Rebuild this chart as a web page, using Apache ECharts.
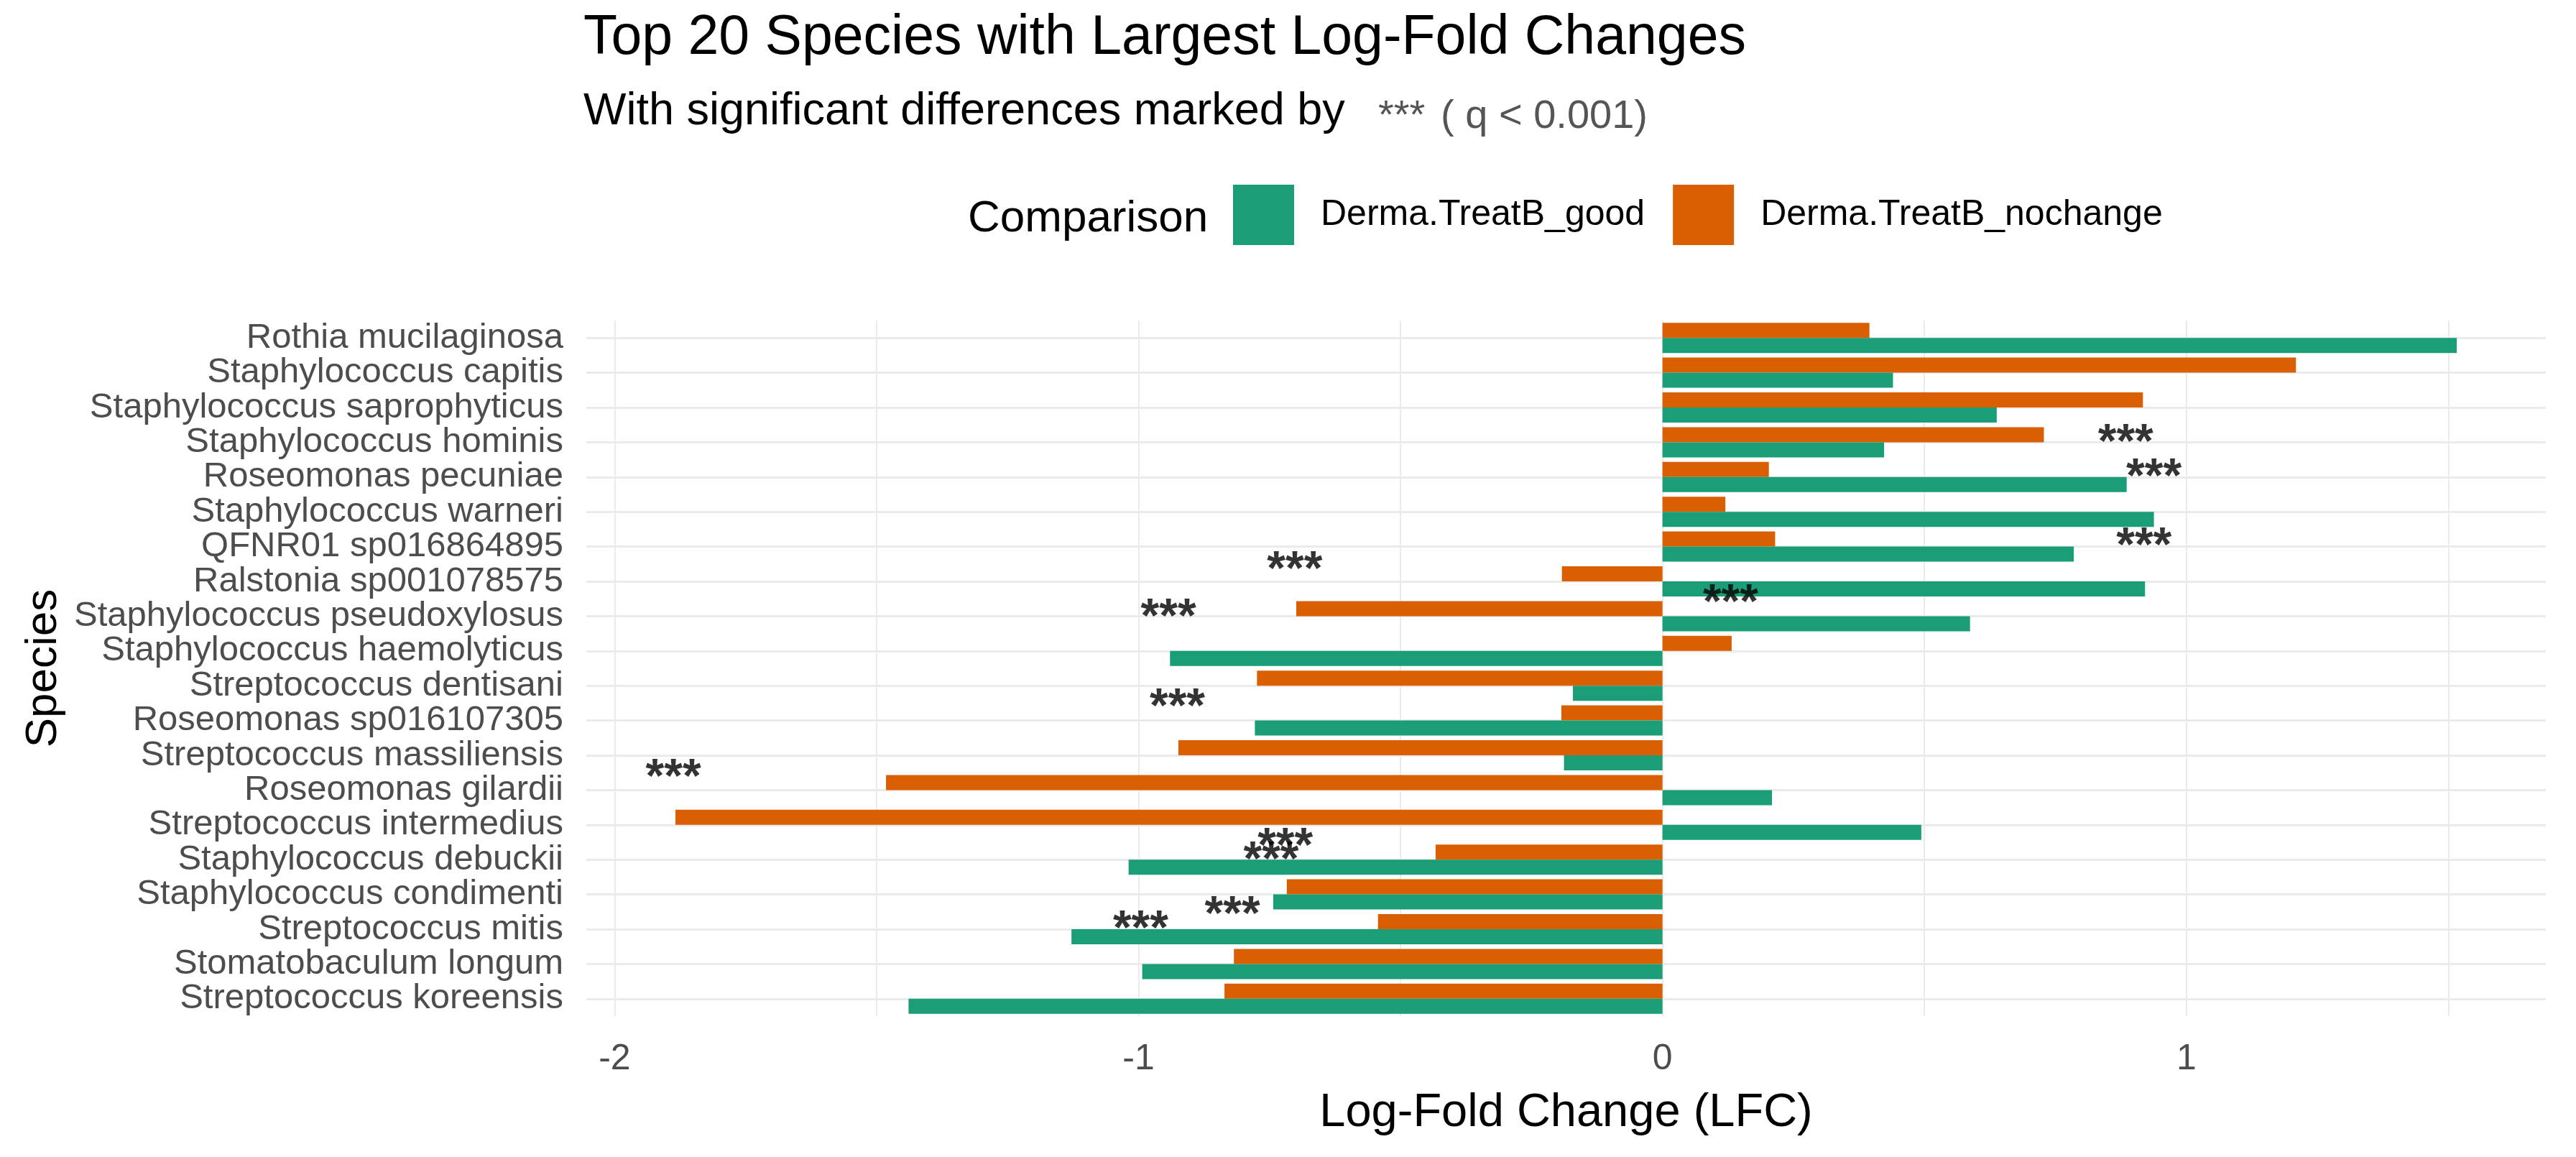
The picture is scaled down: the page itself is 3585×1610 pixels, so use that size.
<!DOCTYPE html>
<html>
<head>
<meta charset="utf-8">
<title>Top 20 Species with Largest Log-Fold Changes</title>
<script src="https://cdn.jsdelivr.net/npm/echarts@6.0.0/dist/echarts.min.js"></script>
<style>
  html, body { margin: 0; padding: 0; background: #fff; }
  #main { width: 3585px; height: 1610px; }
</style>
</head>
<body>
<div id="main"></div>
<script>
// species, top to bottom as in the figure
var species = [
  'Rothia mucilaginosa', 'Staphylococcus capitis', 'Staphylococcus saprophyticus',
  'Staphylococcus hominis', 'Roseomonas pecuniae', 'Staphylococcus warneri',
  'QFNR01 sp016864895', 'Ralstonia sp001078575', 'Staphylococcus pseudoxylosus',
  'Staphylococcus haemolyticus', 'Streptococcus dentisani', 'Roseomonas sp016107305',
  'Streptococcus massiliensis', 'Roseomonas gilardii', 'Streptococcus intermedius',
  'Staphylococcus debuckii', 'Staphylococcus condimenti', 'Streptococcus mitis',
  'Stomatobaculum longum', 'Streptococcus koreensis'
];

// log-fold change per comparison
var lfcGood = [1.516, 0.44, 0.638, 0.423, 0.886, 0.938, 0.785, 0.921, 0.587, -0.94,
  -0.171, -0.778, -0.188, 0.209, 0.494, -1.019, -0.743, -1.128, -0.993, -1.439];
var lfcNochange = [0.395, 1.209, 0.917, 0.728, 0.203, 0.12, 0.215, -0.192, -0.699, 0.132,
  -0.774, -0.193, -0.924, -1.482, -1.884, -0.433, -0.717, -0.543, -0.818, -0.836];

// "***" marks as drawn: LFC position and row position (0 = top row)
var starLfc = [0.884, 0.938, 0.919, 0.13, -0.702, -0.943, -0.926, -1.888, -0.72, -0.747, -0.821, -0.996];
var starRow = [2.76, 3.75, 5.73, 7.37, 6.41, 7.79, 10.36, 12.38, 14.37, 14.76, 16.34, 16.74];

var xMin = -2.054, xMax = 1.686;

var font = "'Liberation Sans', Arial, sans-serif";
var chart = echarts.init(document.getElementById('main'));

var stars = [];
for (var i = 0; i < starLfc.length; i++) {
  stars.push([starLfc[i], starRow[i]]);
}

var option = {
  animation: false,
  textStyle: { fontFamily: font },
  title: [
    {
      text: 'Top 20 Species with Largest Log-Fold Changes',
      left: 812, top: 15, padding: 0,
      textStyle: { fontSize: 77, fontWeight: 'normal', color: '#000', fontFamily: font }
    },
    {
      text: 'With significant differences marked by',
      left: 812, top: 124, padding: 0,
      textStyle: { fontSize: 63, fontWeight: 'normal', color: '#000', fontFamily: font }
    },
    {
      text: '***',
      left: 1918, top: 135, padding: 0,
      textStyle: { fontSize: 56, fontWeight: 'normal', color: '#555', fontFamily: font }
    },
    {
      text: '( q < 0.001)',
      left: 2005, top: 135, padding: 0,
      textStyle: { fontSize: 56, fontWeight: 'normal', color: '#555', fontFamily: font }
    },
    {
      text: 'Comparison',
      left: 1347, top: 274, padding: 0,
      textStyle: { fontSize: 62, fontWeight: 'normal', color: '#000', fontFamily: font }
    }
  ],
  legend: {
    data: ['Derma.TreatB_good', 'Derma.TreatB_nochange'],
    left: 1716, top: 257, padding: 0,
    itemWidth: 85, itemHeight: 84, itemGap: 39,
    icon: 'rect',
    selectedMode: false,
    textStyle: { fontSize: 50, color: '#000', fontFamily: font, padding: [0, 0, 0, 32] }
  },
  grid: { left: 816, right: 42, top: 446, bottom: 196 },
  xAxis: {
    type: 'value',
    min: xMin, max: xMax,
    splitNumber: 8,
    axisLine: { show: false },
    axisTick: { show: false },
    axisLabel: {
      fontSize: 50, color: '#4D4D4D', margin: 35, fontFamily: font,
      formatter: function (v) {
        return Math.abs(v - Math.round(v)) < 1e-6 ? String(Math.round(v)) : '';
      }
    },
    splitLine: {
      show: true, showMinLine: false, showMaxLine: false,
      lineStyle: { color: '#EBEBEB', width: 2 }
    },
    name: 'Log-Fold Change (LFC)',
    nameLocation: 'middle',
    nameGap: 103,
    nameTextStyle: { fontSize: 65, color: '#000', fontFamily: font }
  },
  yAxis: [
    {
      type: 'category',
      data: species,
      inverse: true,
      axisLine: { show: false },
      axisTick: { show: false },
      splitLine: { show: false },
      axisLabel: { interval: 0, fontSize: 49, color: '#4D4D4D', margin: 32, fontFamily: font },
      name: 'Species',
      nameLocation: 'middle',
      nameRotate: 90,
      nameGap: 724,
      nameTextStyle: { fontSize: 62, color: '#000', fontFamily: font }
    },
    {
      // row scale for the gridlines and the "***" marks
      type: 'value',
      min: -0.5, max: 19.5,
      splitNumber: 20,
      inverse: true,
      axisLine: { show: false },
      axisTick: { show: false },
      axisLabel: { show: false },
      splitLine: {
        show: true, showMinLine: false, showMaxLine: false,
        lineStyle: { color: '#EBEBEB', width: 3 }
      }
    }
  ],
  series: [
    {
      name: 'Derma.TreatB_nochange',
      type: 'bar',
      yAxisIndex: 0,
      data: lfcNochange,
      barWidth: 21,
      barGap: '0%',
      itemStyle: { color: '#D95F02' }
    },
    {
      name: 'Derma.TreatB_good',
      type: 'bar',
      yAxisIndex: 0,
      data: lfcGood,
      barWidth: 21,
      barGap: '0%',
      itemStyle: { color: '#1B9E77' }
    },
    {
      name: 'sig',
      type: 'scatter',
      yAxisIndex: 1,
      data: stars,
      symbolSize: 1,
      itemStyle: { color: 'transparent' },
      z: 5,
      label: {
        show: true,
        position: 'inside',
        formatter: '***',
        fontSize: 66,
        fontWeight: 'bold',
        color: '#000',
        offset: [0, 14],
        fontFamily: font
      }
    }
  ]
};

chart.setOption(option);
</script>
</body>
</html>
